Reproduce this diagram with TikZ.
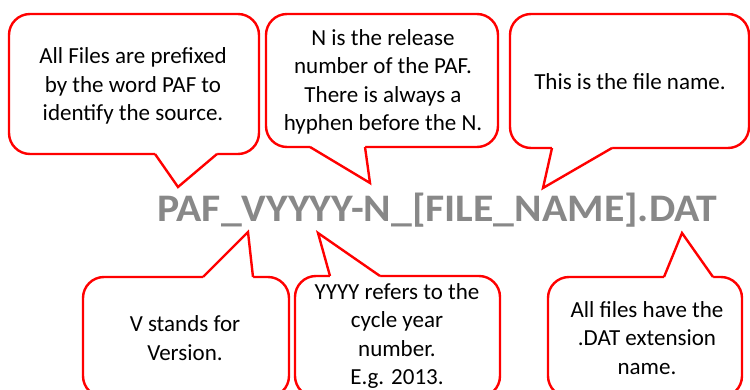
\documentclass[tikz,border=0pt]{standalone}
\usepackage{fontspec}
\setmainfont{Carlito}
\begin{document}
\begin{tikzpicture}[x=1pt,y=-1pt,
  boxline/.style={draw=red, line width=2.4pt, fill=white, rounded corners=21pt},
  tailfill/.style={fill=white, draw=none},
  tailline/.style={draw=red, line width=2.4pt, line join=miter},
  note/.style={align=center, font=\fontsize{23}{28.5}\selectfont, text=black, inner sep=0pt},
  title/.style={font=\fontsize{39}{42}\selectfont\bfseries, text={rgb,255:red,136;green,136;blue,136}, inner sep=0pt}]
\useasboundingbox (0,0) rectangle (750,390);
\begin{scope}
\clip (0,0) rectangle (750,390);
% box 1
\draw[boxline] (9,14) rectangle (259,154);
\fill[tailfill] (155,151) -- (155,154) -- (178,187) -- (217,154) -- (217,151) -- cycle;
\draw[tailline] (155,154) -- (178,187) -- (217,154);
% box 2
\draw[boxline] (266,14) rectangle (498,147);
\fill[tailfill] (310,144) -- (310,147) -- (370,183) -- (365,147) -- (365,144) -- cycle;
\draw[tailline] (310,147) -- (370,183) -- (365,147);
% box 3
\draw[boxline] (510,14) rectangle (749,148);
\fill[tailfill] (552,145) -- (552,148) -- (543,188) -- (612,148) -- (612,145) -- cycle;
\draw[tailline] (552,148) -- (543,188) -- (612,148);
% box 4
\draw[boxline] (83,277) rectangle (289,397);
\fill[tailfill] (203,280) -- (203,277) -- (248,232) -- (253,277) -- (253,280) -- cycle;
\draw[tailline] (203,277) -- (248,232) -- (253,277);
% box 5
\draw[boxline] (295,276) rectangle (500,397);
\fill[tailfill] (330,279) -- (330,276) -- (318,233) -- (380,276) -- (380,279) -- cycle;
\draw[tailline] (330,276) -- (318,233) -- (380,276);
% box 6
\draw[boxline] (548,277) rectangle (742,397);
\fill[tailfill] (664,280) -- (664,277) -- (682,233) -- (713,277) -- (713,280) -- cycle;
\draw[tailline] (664,277) -- (682,233) -- (713,277);
\end{scope}
\node[note] (t1) at (133,86) {All Files are prefixed\\by the word PAF to\\identify the source.};
\node[note] (t2) at (383,82) {N is the release\\number of the PAF.\\There is always a\\hyphen before the N.};
\node[note] (t3) at (630,82) {This is the file name.};
\node[note] (t4) at (185,338) {V stands for\\Version.};
\node[note] (t5) at (397,336) {YYYY refers to the\\cycle year\\number.\\E.g. 2013.};
\node[note] (t6) at (647,338) {All files have the\\.DAT extension\\name.};
\node[title, anchor=base west] (main) at (157,222) {\scalebox{1.07}[1]{PAF\_VYYYY-N\_[FILE\_NAME].DAT}};
\end{tikzpicture}
\end{document}
